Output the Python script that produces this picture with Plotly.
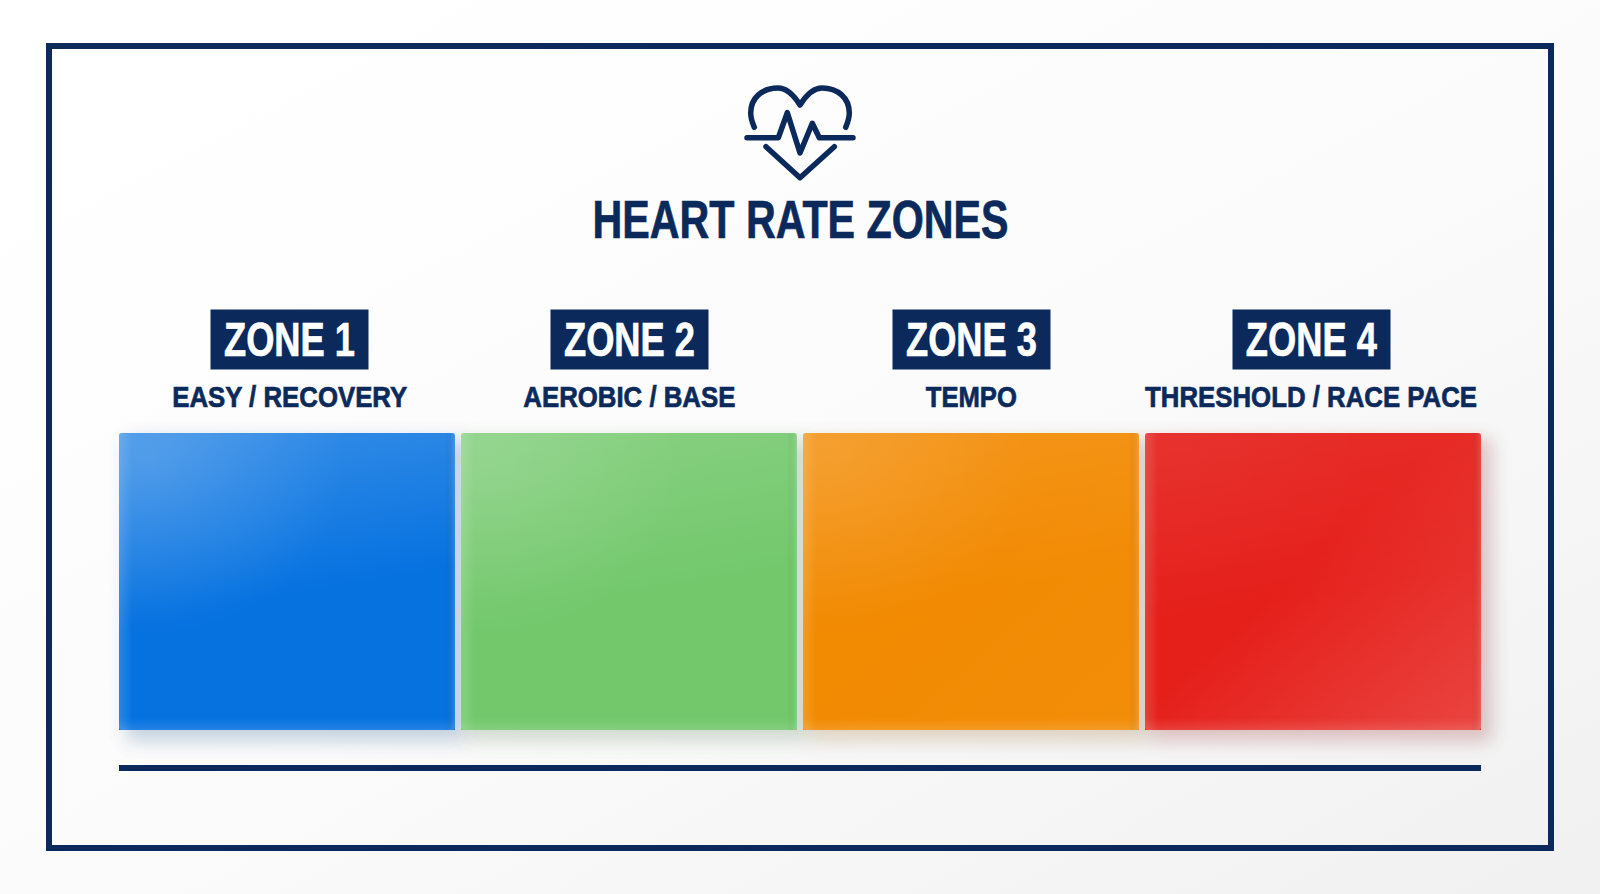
import base64
import json
import plotly.graph_objects as go

W, H = 1600, 894
NAVY = "#0b2a5b"
FONT = "Liberation Sans, Arial, sans-serif"

zones = ["ZONE 1", "ZONE 2", "ZONE 3", "ZONE 4"]
subtitles = ["EASY / RECOVERY", "AEROBIC / BASE", "TEMPO", "THRESHOLD / RACE PACE"]
values = [1, 1, 1, 1]
colors = ["#0672e0", "#73c86c", "#f28a02", "#e51f1a"]
title = "HEART RATE ZONES"

# condensed run widths of the labels, in pixels
title_width = 416
zone_width = 131
subtitle_widths = [235, 212, 91, 332]
label_shift = [2, 0, 0, -2]

# pixel layout
BAR_L, BAR_R, BAR_T, BAR_B = 119, 1481, 433, 730
GAP = 6
PITCH = (BAR_R - BAR_L + GAP) / 4
BAR_W = PITCH - GAP


def px(x):
    return x / W


def py(y):
    return 1 - y / H


def pth(cmds):
    out = []
    for c in cmds:
        if isinstance(c, str):
            out.append(c)
        else:
            out.append(f"{px(c[0]):.5f},{py(c[1]):.5f}")
    return " ".join(out)


def svg_uri(body):
    svg = f'<svg xmlns="http://www.w3.org/2000/svg" width="{W}" height="{H}" viewBox="0 0 {W} {H}">{body}</svg>'
    return "data:image/svg+xml;base64," + base64.b64encode(svg.encode()).decode()


# page background plus soft shadows
shadows = "".join(
    f'<rect x="{BAR_L + i * PITCH + 8}" y="{BAR_T + 6}" width="{BAR_W}" height="{BAR_B - BAR_T + 5}" '
    f'fill="{colors[i]}" fill-opacity="0.12" filter="url(#b)"/>'
    for i in range(len(zones))
)
bg = f'''<defs>
<linearGradient id="pg" x1="0.15" y1="0.05" x2="1" y2="0.95">
<stop offset="0" stop-color="#ffffff"/><stop offset="0.5" stop-color="#fbfbfb"/><stop offset="1" stop-color="#f1f1f1"/>
</linearGradient>
<filter id="b" x="-20%" y="-20%" width="140%" height="140%"><feGaussianBlur stdDeviation="9"/></filter>
</defs>
<rect width="{W}" height="{H}" fill="url(#pg)"/>
<rect x="{BAR_L+8}" y="{BAR_T+6}" width="{BAR_R-BAR_L+4}" height="{BAR_B-BAR_T+5}" fill="#000" fill-opacity="0.11" filter="url(#b)"/>{shadows}'''

# soft sheen on the panels
top_alpha = [0.20, 0.15, 0.10, 0.07]
corner_alpha = [0.16, 0.12, 0.10, 0.02]
bottom_right_alpha = [0.0, 0.0, 0.03, 0.17]
defs = ['''<linearGradient id="bo" x1="0" y1="0.96" x2="0" y2="1"><stop offset="0" stop-color="#fff" stop-opacity="0"/><stop offset="1" stop-color="#fff" stop-opacity="0.12"/></linearGradient>
<linearGradient id="ed" x1="0" y1="0" x2="1" y2="0"><stop offset="0" stop-color="#fff" stop-opacity="0.14"/><stop offset="0.04" stop-color="#fff" stop-opacity="0"/><stop offset="0.97" stop-color="#000" stop-opacity="0"/><stop offset="1" stop-color="#fff" stop-opacity="0.14"/></linearGradient>''']
rects = []
for i in range(len(zones)):
    defs.append(f'<linearGradient id="top{i}" x1="0" y1="0" x2="0.12" y2="0.62"><stop offset="0" stop-color="#fff" stop-opacity="{top_alpha[i]}"/><stop offset="1" stop-color="#fff" stop-opacity="0"/></linearGradient>')
    defs.append(f'<radialGradient id="cor{i}" cx="0.08" cy="0.08" r="0.6"><stop offset="0" stop-color="#fff" stop-opacity="{corner_alpha[i]}"/><stop offset="1" stop-color="#fff" stop-opacity="0"/></radialGradient>')
    defs.append(f'<linearGradient id="brg{i}" x1="0.45" y1="0.45" x2="1" y2="1"><stop offset="0" stop-color="#fff" stop-opacity="0"/><stop offset="1" stop-color="#fff" stop-opacity="{bottom_right_alpha[i]}"/></linearGradient>')
    x = BAR_L + i * PITCH
    attrs = f'x="{x}" y="{BAR_T}" width="{BAR_W}" height="{BAR_B-BAR_T}" rx="3"'
    rects.append(f'<rect {attrs} fill="url(#top{i})"/><rect {attrs} fill="url(#cor{i})"/><rect {attrs} fill="url(#brg{i})"/><rect {attrs} fill="url(#bo)"/><rect {attrs} fill="url(#ed)"/>')
sheen = "<defs>" + "".join(defs) + "</defs>" + "".join(rects)

fig = go.Figure(
    go.Bar(
        x=zones,
        y=values,
        marker=dict(color=colors, cornerradius=3, line=dict(width=0)),
        hoverinfo="x",
        showlegend=False,
    )
)

shapes = [
    dict(type="rect", xref="paper", yref="paper", x0=px(49), x1=px(1551), y0=py(46), y1=py(848),
         line=dict(color=NAVY, width=6), layer="below"),
    dict(type="line", xref="paper", yref="paper", x0=px(BAR_L), x1=px(BAR_R), y0=py(768), y1=py(768),
         line=dict(color=NAVY, width=6)),
]
icon_line = dict(color=NAVY, width=5.5)
heart = ["M", (754.3, 127.3), "C", (752, 122), (750.7, 118), (750.7, 113), "C", (750.7, 98), (762, 88), (778, 88),
         "C", (788, 88), (795, 97), (800, 105), "C", (805, 97), (812, 88), (822, 88),
         "C", (838, 88), (849.3, 98), (849.3, 113), "C", (849.3, 118), (848, 122), (845.7, 127.3)]
ecg = ["M", (747, 137.7), "L", (778.3, 137.7), "L", (787.3, 112.7), "L", (800, 153), "L", (812.3, 123.3), "L", (819.3, 137.7), "L", (853, 137.7)]
vee = ["M", (766, 146.7), "L", (800, 177.7), "L", (834.3, 146.7)]
for p in (heart, ecg, vee):
    shapes.append(dict(type="path", xref="paper", yref="paper", path=pth(p), line=icon_line))

annotations = [
    dict(text=title, xref="paper", yref="paper", x=0.5, y=py(219), showarrow=False,
         xanchor="center", yanchor="middle", font=dict(family=FONT, size=54, color=NAVY, weight=700)),
]
for z, s, dx in zip(zones, subtitles, label_shift):
    annotations.append(dict(text=z, xref="x", yref="paper", x=z, y=py(339.5), xshift=dx, showarrow=False,
                            xanchor="center", yanchor="middle", width=157, height=59, borderpad=0, bgcolor=NAVY,
                            font=dict(family=FONT, size=48, color="#ffffff", weight=700)))
    annotations.append(dict(text=s, xref="x", yref="paper", x=z, y=py(396), xshift=dx, showarrow=False,
                            xanchor="center", yanchor="middle",
                            font=dict(family=FONT, size=30, color=NAVY, weight=700)))

fig.update_layout(
    width=W,
    height=H,
    margin=dict(l=0, r=0, t=0, b=0),
    paper_bgcolor="#fafafa",
    plot_bgcolor="rgba(0,0,0,0)",
    bargap=GAP / PITCH,
    showlegend=False,
    xaxis=dict(domain=[px(BAR_L - GAP / 2), px(BAR_R + GAP / 2)], range=[-0.5, 3.5], type="category", visible=False, fixedrange=True),
    yaxis=dict(domain=[py(BAR_B), py(BAR_T)], range=[0, 1], visible=False, fixedrange=True),
    shapes=shapes,
    annotations=annotations,
    images=[
        dict(source=svg_uri(bg), xref="paper", yref="paper", x=0, y=1, sizex=1, sizey=1,
             xanchor="left", yanchor="top", sizing="stretch", layer="below"),
        dict(source=svg_uri(sheen), xref="paper", yref="paper", x=0, y=1, sizex=1, sizey=1,
             xanchor="left", yanchor="top", sizing="stretch", layer="above"),
    ],
)

widths = {title: title_width}
widths.update({z: zone_width for z in zones})
widths.update(dict(zip(subtitles, subtitle_widths)))

post = """
document.body.style.margin = '0';
var widths = %s;
function condense() {
  document.querySelectorAll('text.annotation-text').forEach(function (t) {
    var w = widths[t.textContent];
    if (w) {
      t.setAttribute('textLength', w);
      t.setAttribute('lengthAdjust', 'spacingAndGlyphs');
      t.style.stroke = t.style.fill;
      t.style.strokeWidth = '0.7px';
    }
  });
  document.querySelectorAll('.shapelayer path').forEach(function (p) {
    if (parseFloat(p.style.strokeWidth) === 5.5) {
      p.style.strokeLinecap = 'round';
      p.style.strokeLinejoin = 'round';
    }
  });
}
condense();
setTimeout(condense, 0);
""" % json.dumps(widths)

fig.write_html("out.html", post_script=post, config={"displayModeBar": False})
